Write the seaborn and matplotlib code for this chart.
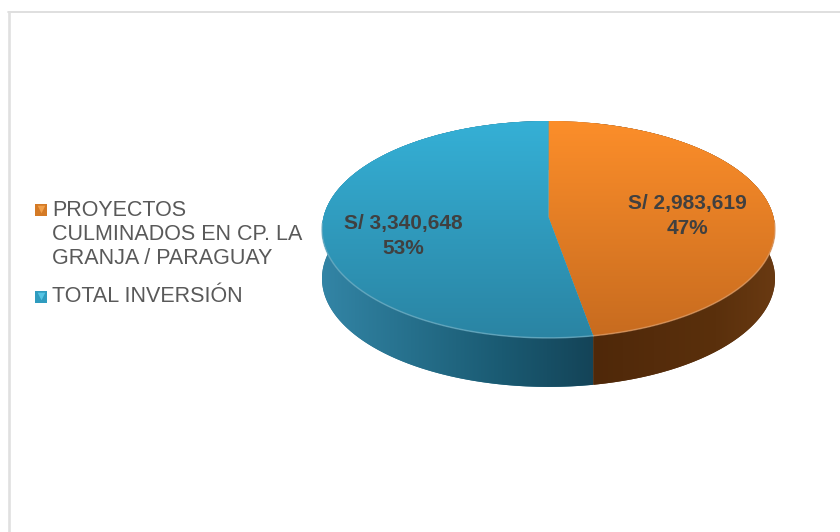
import numpy as np
import matplotlib
matplotlib.use('Agg')
import matplotlib.pyplot as plt
from matplotlib.path import Path
from matplotlib.patches import PathPatch
from matplotlib.transforms import Transform
import seaborn as sns

labels = ['PROYECTOS\nCULMINADOS EN CP. LA\nGRANJA / PARAGUAY', 'TOTAL INVERSIÓN']
values = [2983619, 3340648]

top_colors = [['#fc8e2a', '#c76b1f'], ['#35b0d6', '#2a84a3']]
side_colors = [['#4f2809', '#552c0b', '#5a300c', '#6a3a12'], ['#3385a6', '#26708c', '#1a5a72', '#144458']]
legend_colors = ['#d47a26', '#2f9cbf']
legend_light = ['#f2a04a', '#55c4e4']

sns.set_theme(style='white')
plt.rcParams['font.family'] = ['Liberation Sans', 'DejaVu Sans']

# pie centre and radii in pixels, with a bit of perspective
cx, cy, rx, ry, k = 548.5, 217, 225, 107, 0.115
depth = 49


def project(xy, dy=0):
    w = 1 + k * xy[:, 1]
    return np.column_stack([cx + rx * xy[:, 0] / w, cy - ry * xy[:, 1] / w + dy])


class Tilt(Transform):
    input_dims = 2
    output_dims = 2

    def transform_non_affine(self, values):
        return project(np.asarray(values))


fig = plt.figure(figsize=(8.4, 5.32), dpi=100)
ax = fig.add_axes([0, 0, 1, 1])

wedges, _ = ax.pie(values, startangle=90, counterclock=False, radius=1)
ax.set_aspect('auto')
ax.axis('off')

# chart frame, only top and left are inside the picture
ax.plot([840, 8], [12, 12], color='#d9d9d9', lw=1.2, zorder=1)
ax.plot([8.5, 8.5], [12, 532], color='#e0e0e0', lw=1.9, zorder=1)

for i, w in enumerate(wedges):
    theta = np.radians(np.linspace(w.theta1, w.theta2, 300))
    arc = np.column_stack([np.cos(theta), np.sin(theta)])
    top = project(arc)
    bottom = project(arc, depth)

    # side of the disc, lighter to darker from left to right
    side = PathPatch(Path(np.vstack([top, bottom[::-1], top[:1]])), fc=side_colors[i][1], ec='none', zorder=2)
    ax.add_patch(side)
    cmap = sns.blend_palette(side_colors[i], as_cmap=True)
    extent = [592, 778, 395, 115] if i == 0 else [320, 593, 395, 115]
    im = ax.imshow(np.linspace(0, 1, 256)[None, :], cmap=cmap, extent=extent, aspect='auto', zorder=3)
    im.set_clip_path(side)

    # top face
    w.set_transform(Tilt() + ax.transData)
    w.set_facecolor(top_colors[i][0])
    w.set_edgecolor('none')
    w.set_zorder(4)
    cmap = sns.blend_palette(top_colors[i], as_cmap=True)
    im = ax.imshow(np.linspace(0, 1, 256)[:, None], cmap=cmap, extent=[318, 780, 338, 121], aspect='auto', zorder=5)
    im.set_clip_path(w)

    # light rim along the front edge
    front = arc[:, 1] < -0.05
    rim = sns.blend_palette([top_colors[i][1], '#ffffff'], 4)[1]
    ax.plot(top[front, 0], top[front, 1], color=rim, lw=1.1, alpha=0.7, zorder=6)

ax.set_xlim(0, 840)
ax.set_ylim(532, 0)

# value labels
shares = np.array(values) / sum(values) * 100
label_pos = [(687, 204), (403, 223)]
for v, s, (x, y) in zip(values, shares, label_pos):
    ax.text(x, y, f'S/ {v:,}', ha='center', va='center', fontsize=15, fontweight='bold', color='#404040', zorder=8)
    ax.text(x, y + 25, f'{s:.0f}%', ha='center', va='center', fontsize=15, fontweight='bold', color='#404040', zorder=8)

# legend
line_h = 24.5
legend_y = [209, 296]
for i, label in enumerate(labels):
    ax.scatter(41, legend_y[i] + 0.5, marker='s', s=72, color=legend_colors[i], lw=0, zorder=8)
    ax.scatter(41, legend_y[i] - 0.5, marker='v', s=30, color=legend_light[i], lw=0, zorder=9)
    for j, line in enumerate(label.split('\n')):
        ax.text(52, legend_y[i] + 1 + j * line_h, line, ha='left', va='center', fontsize=15.5, color='#595959', zorder=8)

fig.savefig('out.png', dpi=100, facecolor='white')
